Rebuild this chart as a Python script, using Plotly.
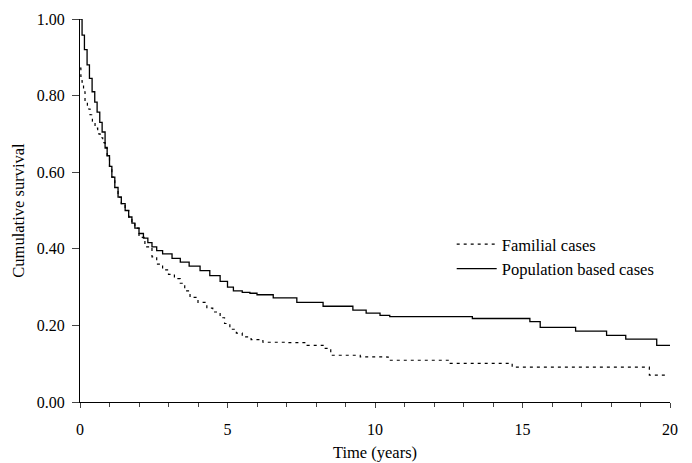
import plotly.graph_objects as go

# Population based cases (solid) - Kaplan-Meier steps
pop_t = [0, 0.07, 0.15, 0.24, 0.32, 0.41, 0.5, 0.58, 0.67, 0.75, 0.85, 0.92, 1.0, 1.08, 1.18, 1.29,
         1.4, 1.53, 1.65, 1.76, 1.86, 2.0, 2.15, 2.3, 2.44, 2.6, 2.8, 3.12, 3.4, 3.7, 4.07, 4.4, 4.75,
         5.0, 5.2, 5.5, 5.76, 6.0, 6.55, 7.35, 8.24, 9.25, 9.7, 10.17, 10.5, 13.3, 15.25, 15.6, 16.8,
         17.85, 18.5, 19.55, 20.0]
pop_s = [1.0, 0.958, 0.92, 0.88, 0.845, 0.81, 0.783, 0.757, 0.73, 0.705, 0.665, 0.643, 0.615, 0.587, 0.56, 0.535,
         0.518, 0.50, 0.483, 0.467, 0.454, 0.44, 0.428, 0.416, 0.405, 0.395, 0.387, 0.375, 0.365, 0.355, 0.343, 0.33, 0.315,
         0.30, 0.29, 0.286, 0.284, 0.28, 0.272, 0.26, 0.25, 0.24, 0.232, 0.226, 0.223, 0.218, 0.21, 0.195, 0.185,
         0.174, 0.164, 0.148, 0.148]

# Familial cases (dotted)
fam_t = [0, 0.03, 0.07, 0.12, 0.17, 0.25, 0.34, 0.42, 0.51, 0.6, 0.68, 0.77, 0.85, 0.92, 1.0, 1.08,
         1.18, 1.29, 1.4, 1.53, 1.65, 1.76, 1.86, 2.0, 2.2, 2.44, 2.6, 2.8, 3.0, 3.2, 3.4, 3.55, 3.73,
         4.0, 4.3, 4.5, 4.75, 4.9, 5.08, 5.3, 5.5, 5.8, 6.2, 7.0, 7.7, 8.24, 8.5, 9.5, 10.4, 10.45,
         12.55, 14.65, 19.3, 19.9]
fam_s = [0.872, 0.85, 0.835, 0.81, 0.783, 0.765, 0.75, 0.733, 0.715, 0.70, 0.69, 0.677, 0.663, 0.643, 0.615, 0.587,
         0.56, 0.535, 0.518, 0.50, 0.483, 0.467, 0.454, 0.43, 0.405, 0.379, 0.36, 0.345, 0.333, 0.322, 0.31, 0.29, 0.273,
         0.26, 0.245, 0.235, 0.22, 0.205, 0.19, 0.18, 0.17, 0.163, 0.156, 0.155, 0.148, 0.14, 0.122, 0.118, 0.117, 0.109,
         0.101, 0.091, 0.07, 0.07]

series_names = ["Familial cases", "Population based cases"]
x_ticks = [0, 5, 10, 15, 20]
y_ticks = [0.0, 0.2, 0.4, 0.6, 0.8, 1.0]

serif = "Liberation Serif, Times New Roman, serif"

fig = go.Figure()
fig.add_trace(go.Scatter(x=fam_t, y=fam_s, mode="lines", name=series_names[0],
                         line=dict(color="black", width=1.2, dash="3px,4px", shape="hv")))
fig.add_trace(go.Scatter(x=pop_t, y=pop_s, mode="lines", name=series_names[1],
                         line=dict(color="black", width=1.3, shape="hv")))

# page body adds an 8px margin, so the figure is sized to fit inside the window
fig.update_layout(
    width=684, height=455,
    margin=dict(l=72, r=22, t=11, b=61),
    paper_bgcolor="white", plot_bgcolor="white",
    font=dict(family=serif, size=16, color="black"),
    showlegend=True,
    legend=dict(x=0.63, y=0.38, xanchor="left", yanchor="middle",
                bgcolor="rgba(0,0,0,0)", font=dict(family=serif, size=16.5),
                itemwidth=40, tracegroupgap=0),
    xaxis=dict(range=[0, 20], tickvals=x_ticks, ticks="outside", ticklen=5, tickwidth=1,
               showline=True, linecolor="black", linewidth=1, showgrid=False, zeroline=False,
               tickfont=dict(size=16), automargin=False, ticklabelstandoff=8,
               minor=dict(dtick=1, ticks="outside", ticklen=4, tickwidth=1, showgrid=False),
               title=dict(text="Time (years)", font=dict(size=16.5), standoff=9)),
    yaxis=dict(range=[0, 1.0], tickvals=y_ticks, tickformat=".2f", ticks="outside", ticklen=7,
               tickwidth=1, showline=True, linecolor="black", linewidth=1, showgrid=False,
               zeroline=False, tickfont=dict(size=16), automargin=False, ticklabelstandoff=4,
               title=dict(text="Cumulative survival", font=dict(size=16.5), standoff=8)),
)

fig.write_html("out.html")
